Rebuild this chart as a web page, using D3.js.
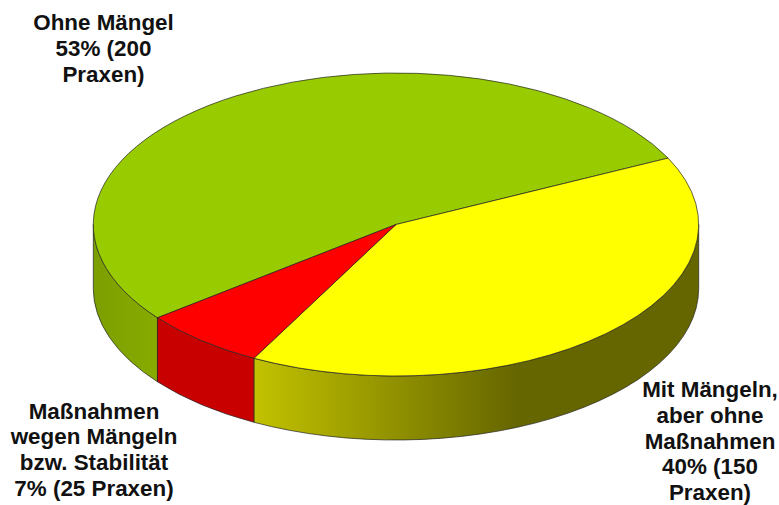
<!DOCTYPE html>
<html>
<head>
<meta charset="utf-8">
<script src="https://cdn.jsdelivr.net/npm/d3@7"></script>
<style>
  html, body { margin: 0; padding: 0; background: #fff; }
  text { font-family: "Liberation Sans", Arial, sans-serif; font-weight: bold; font-size: 22.4px; fill: #111; text-anchor: middle; }
</style>
</head>
<body>
<div class="canvas"></div>
<script>
const categories = ['Ohne Mängel', 'Mit Mängeln, aber ohne Maßnahmen', 'Maßnahmen wegen Mängeln bzw. Stabilität'];
const practices = [200, 150, 25];
const sliceColors = ['#99cc00', '#ffff00', '#ff0000'];
const labelLines = [
  ['Ohne Mängel', '53% (200', 'Praxen)'],
  ['Mit Mängeln,', 'aber ohne', 'Maßnahmen', '40% (150', 'Praxen)'],
  ['Maßnahmen', 'wegen Mängeln', 'bzw. Stabilität', '7% (25 Praxen)']
];
const labelAnchors = [[103.5, 30], [710, 397], [94, 418.5]];

const width = 779;
const height = 505;
const depth = 64;
const lineHeight = 25.8;

const svg = d3.select('.canvas').append('svg').attr('width', width).attr('height', height).style('display', 'block');
const defs = svg.append('defs');

const x = d3.scaleLinear().domain([-1, 1]).range([93.3, 698.7]);
const y = d3.scaleLinear().domain([-1, 1]).range([73, 376]);
const rx = (x(1) - x(-1)) / 2;
const ry = (y(1) - y(-1)) / 2;

const startDeg = 232;
const pie = d3.pie().sort(null).startAngle(startDeg * Math.PI / 180).endAngle((startDeg + 360) * Math.PI / 180);
const slices = pie(practices);

const px = a => x(Math.sin(a));
const py = a => y(-Math.cos(a));

const sideStops = [
  [['0%', '#7c9f00'], ['100%', '#88ab00']],
  [['0%', '#c2c200'], ['59%', '#666600'], ['100%', '#666600']],
  [['0%', '#c80000'], ['100%', '#c80000']]
];

// walls sit only on the front half of the ellipse
const wallPath = d => {
  const turn = 2 * Math.PI;
  const shift = d.startAngle >= turn ? turn : 0;
  const a0 = d.startAngle - shift;
  const a1 = d.endAngle - shift;
  const from = Math.max(a0, Math.PI / 2);
  const to = Math.min(a1, 3 * Math.PI / 2);
  if (to <= from) return null;
  return `M${px(from)},${py(from)}A${rx},${ry} 0 0 1 ${px(to)},${py(to)}` +
    `L${px(to)},${py(to) + depth}A${rx},${ry} 0 0 0 ${px(from)},${py(from) + depth}Z`;
};

const slicePath = d => {
  const large = d.endAngle - d.startAngle > Math.PI ? 1 : 0;
  return `M${x(0)},${y(0)}L${px(d.startAngle)},${py(d.startAngle)}` +
    `A${rx},${ry} 0 ${large} 1 ${px(d.endAngle)},${py(d.endAngle)}Z`;
};

slices.forEach((d, i) => {
  defs.append('linearGradient').attr('id', `wall${i}`)
    .selectAll('stop').data(sideStops[i]).join('stop')
    .attr('offset', s => s[0]).attr('stop-color', s => s[1]);
});

svg.append('g').selectAll('path').data(slices).join('path')
  .attr('d', wallPath)
  .attr('fill', (d, i) => `url(#wall${i})`)
  .attr('stroke', '#222')
  .attr('stroke-width', 0.7);

svg.append('g').selectAll('path').data(slices).join('path')
  .attr('d', slicePath)
  .attr('fill', (d, i) => sliceColors[i])
  .attr('stroke', '#222')
  .attr('stroke-width', 0.7);

svg.append('g').selectAll('text').data(labelLines).join('text')
  .attr('transform', (d, i) => `translate(${labelAnchors[i][0]},${labelAnchors[i][1]})`)
  .selectAll('tspan').data(d => d).join('tspan')
  .attr('x', 0)
  .attr('y', (d, i) => i * lineHeight)
  .text(d => d);
</script>
</body>
</html>
